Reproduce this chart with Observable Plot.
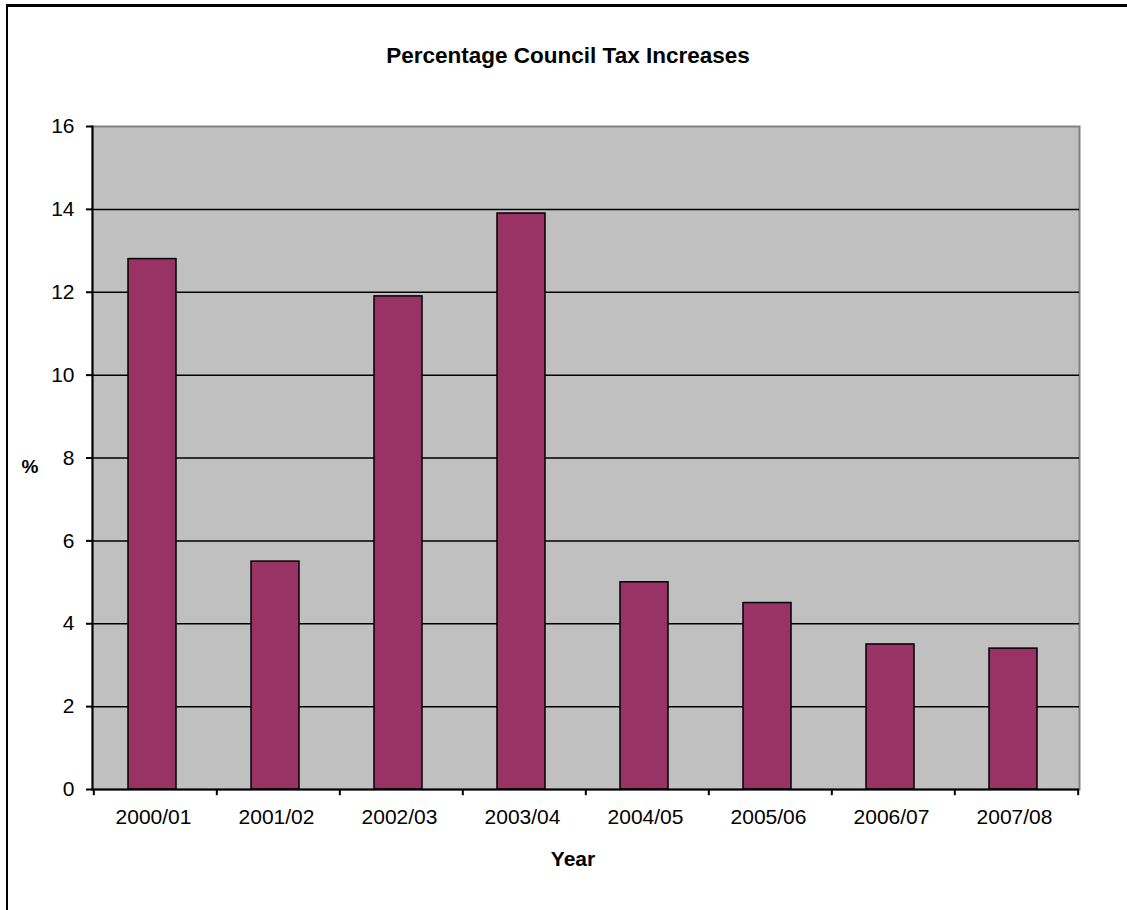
<!DOCTYPE html>
<html>
<head>
<meta charset="utf-8">
<script src="https://cdn.jsdelivr.net/npm/d3@7"></script>
<script src="https://cdn.jsdelivr.net/npm/@observablehq/plot@0.6"></script>
<style>
  html, body { margin: 0; padding: 0; background: #fff; }
  #wrap { position: relative; width: 1127px; height: 910px; overflow: hidden; font-family: "Liberation Sans", Arial, sans-serif; }
  #border { position: absolute; left: 6px; top: 4px; width: 1200px; height: 1000px; border-left: 2px solid #000; border-top: 3px solid #000; }
  #chart { position: absolute; left: 0; top: 0; }
  .lbl { position: absolute; font-weight: bold; color: #000; white-space: nowrap; line-height: 1; }
  #title { left: 318px; top: 45px; width: 500px; text-align: center; font-size: 22.5px; }
  #ylab { left: 15px; top: 457px; width: 30px; text-align: center; font-size: 19px; }
  #xlab { left: 523px; top: 848px; width: 100px; text-align: center; font-size: 21px; }
</style>
</head>
<body>
<div id="wrap">
  <div id="chart"></div>
  <div id="border"></div>
  <div class="lbl" id="title">Percentage Council Tax Increases</div>
  <div class="lbl" id="ylab">%</div>
  <div class="lbl" id="xlab">Year</div>
</div>
<script>
const years = ["2000/01", "2001/02", "2002/03", "2003/04", "2004/05", "2005/06", "2006/07", "2007/08"];
const increases = [12.8, 5.5, 11.9, 13.9, 5.0, 4.5, 3.5, 3.4];
const yTicks = [0, 2, 4, 6, 8, 10, 12, 14, 16];
const gridValues = [2, 4, 6, 8, 10, 12, 14];

const data = years.map((y, i) => ({year: y, value: increases[i]}));

const W = 1127, H = 910;
const mL = 92, mR = 48, mT = 126, mB = 121;
const step = (W - mL - mR) / years.length;

const chart = Plot.plot({
  width: W,
  height: H,
  marginLeft: mL,
  marginRight: mR,
  marginTop: mT,
  marginBottom: mB,
  style: {fontFamily: "'Liberation Sans', Arial, sans-serif", fontSize: "21px", color: "#000", background: "transparent"},
  x: {domain: years, paddingInner: 0.61, paddingOuter: 0.305, label: null},
  y: {domain: [0, 16], label: null},
  marks: [
    Plot.frame({fill: "#c0c0c0", stroke: "#808080", strokeWidth: 2}),
    Plot.ruleY(gridValues, {stroke: "#000", strokeWidth: 1.5}),
    Plot.barY(data, {x: "year", y: "value", dx: -3, fill: "#993366", stroke: "#000", strokeWidth: 1.5}),
    Plot.ruleY([0], {stroke: "#000", strokeWidth: 2}),
    Plot.frame({anchor: "left", stroke: "#000", strokeWidth: 2}),
    Plot.ruleX(years, {x: d => d, y1: 0, y2: -0.15, dx: -step / 2, stroke: "#000", strokeWidth: 2}),
    Plot.ruleX([years[years.length - 1]], {x: d => d, y1: 0, y2: -0.15, dx: step / 2, stroke: "#000", strokeWidth: 2}),
    Plot.axisY({ticks: yTicks, tickSize: 6, tickPadding: 12, tickFormat: d => String(d), fontSize: 21, stroke: "#000", strokeWidth: 2}),
    Plot.axisX({tickSize: 0, tickPadding: 20, fontSize: 21, dx: -2})
  ]
});
document.getElementById("chart").appendChild(chart);
</script>
</body>
</html>
